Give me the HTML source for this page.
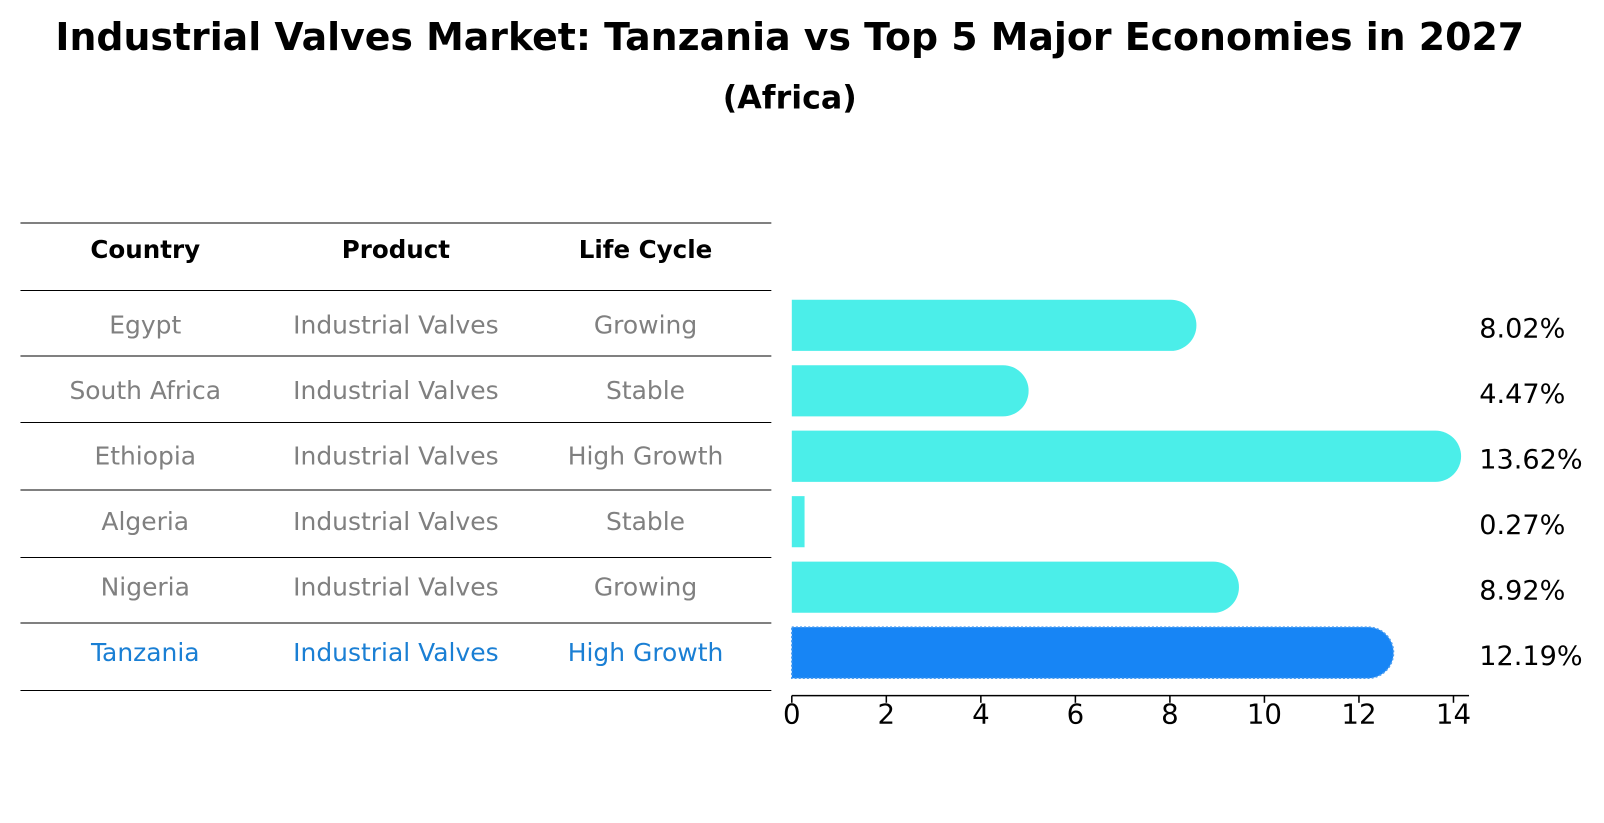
<!DOCTYPE html>
<html><head><meta charset="utf-8"><style>
body{margin:0;background:#fff;font-family:"Liberation Sans","DejaVu Sans",sans-serif;}
#wrap{position:relative;width:1604px;height:823px;overflow:hidden;}
</style></head><body>
<div id="wrap">
<svg id="svg" width="1604" height="823" xmlns="http://www.w3.org/2000/svg" font-family="DejaVu Sans, Liberation Sans, sans-serif">
<g transform="scale(1.023)">
<text x="772" y="49" text-anchor="middle" font-size="37" font-weight="bold">Industrial Valves Market: Tanzania vs Top 5 Major Economies in 2027</text>
<text x="772" y="106" text-anchor="middle" font-size="31" font-weight="bold">(Africa)</text>
<g id="table"></g>
<g id="bars"></g>
</g>
</svg>
</div>
<script>
const countries=["Egypt","South Africa","Ethiopia","Algeria","Nigeria","Tanzania"];
const products=["Industrial Valves","Industrial Valves","Industrial Valves","Industrial Valves","Industrial Valves","Industrial Valves"];
const lifecycles=["Growing","Stable","High Growth","Stable","Growing","High Growth"];
const values=[8.02,4.47,13.62,0.27,8.92,12.19];
const ticks=[0,2,4,6,8,10,12,14];
const NS="http://www.w3.org/2000/svg";
function mk(tag,attrs,parent){const e=document.createElementNS(NS,tag);for(const k in attrs)e.setAttribute(k,attrs[k]);parent.appendChild(e);return e;}
const table=document.getElementById('table'),bars=document.getElementById('bars');
const x0=774,pxPer=46.2;
const xs=v=>x0+v*pxPer;
const rowY=i=>318+i*64;
const lineYs=[218,284,348,413,479,545,609,675];
lineYs.forEach((y,i)=>{const l=mk('line',{x1:20,x2:754,y1:y,y2:y,stroke:'#000','stroke-width':1},table);

});
const colX=[142,387,631];
["Country","Product","Life Cycle"].forEach((h,j)=>{const t=mk('text',{x:colX[j],y:252,'text-anchor':'middle','font-size':24,'font-weight':'bold'},table);t.textContent=h;

});
countries.forEach((c,i)=>{const hl=i===countries.length-1;const col=hl?'#1a7fd4':'#808080';
[c,products[i],lifecycles[i]].forEach((v,j)=>{const t=mk('text',{x:colX[j],y:rowY(i)+8,'text-anchor':'middle','font-size':24.4,fill:col},table);t.textContent=v;

});});
const h=50,r=25;
values.forEach((v,i)=>{const hl=i===values.length-1;const col=hl?'#1785f5':'#4beee9';
const y=rowY(i)-h/2;const xe=xs(v);
let d;
if(v>1){d=`M${x0},${y} H${xe} A${r},${r} 0 0 1 ${xe},${y+h} H${x0} Z`;}
else{d=`M${x0},${y} H${xe} V${y+h} H${x0} Z`;}
const p=mk('path',{d:d,fill:col},bars);
if(hl){p.setAttribute('stroke','#4a9cf0');p.setAttribute('stroke-dasharray','2,2');p.setAttribute('stroke-width','1.5');}


const t=mk('text',{x:1446,y:rowY(i)+12,'font-size':26.5,fill:'#000'},bars);t.textContent=v.toFixed(2)+'%';

});
const ax=mk('line',{x1:x0,x2:1436,y1:680,y2:680,stroke:'#000','stroke-width':1.5},bars);


ticks.forEach(tk=>{const l=mk('line',{x1:xs(tk),x2:xs(tk),y1:680,y2:687,stroke:'#000','stroke-width':1.5},bars);


const t=mk('text',{x:xs(tk),y:707,'text-anchor':'middle','font-size':27},bars);t.textContent=tk;

});
</script>
</body></html>
